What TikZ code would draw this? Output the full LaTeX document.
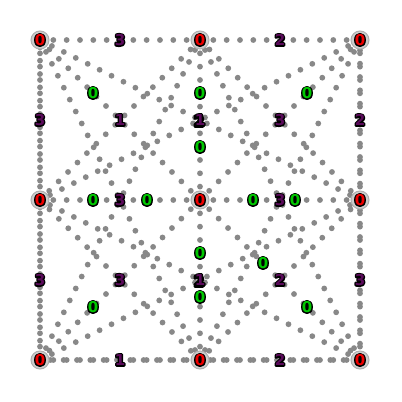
\documentclass[tikz,border=0pt]{standalone}
\usepackage{fontspec}
\setmainfont{DejaVu Sans}
\definecolor{dotgray}{RGB}{136,136,136}
\definecolor{halofill}{RGB}{205,205,205}
\definecolor{haloline}{RGB}{175,175,175}
\definecolor{nodered}{RGB}{240,0,0}
\definecolor{labpurple}{RGB}{90,10,90}
\definecolor{labdark}{RGB}{30,0,30}
\definecolor{labgreen}{RGB}{0,200,0}
\newcommand{\stroketext}[1]{\special{pdf:literal direct 2 Tr 2.8 w 0 0 0 RG 0 0 0 rg 1 j}#1\special{pdf:literal direct 0 Tr}}
\tikzset{
  edge/.style={draw=dotgray, line width=5.8pt, line cap=round, dash pattern=on 0pt off 13.33pt},
  halo/.style={circle, fill=halofill, draw=haloline, line width=1pt, minimum size=18pt, inner sep=0pt},
  lbl/.style={font=\bfseries\fontsize{15}{15}\selectfont, inner sep=0pt, anchor=center},
  outline lbl/.style={lbl, text=black},
  red lbl/.style={lbl, text=nodered},
  purple lbl/.style={lbl, text=labpurple},
  dark lbl/.style={lbl, text=labdark},
  green lbl/.style={lbl, text=labgreen}
}
\newcommand{\lab}[4]{%
  \node[outline lbl] (#1o) at (#2) {\stroketext{#4}};
  \node[#3] (#1) at (#2) {#4};}
\begin{document}
\begin{tikzpicture}[x=1pt,y=-1pt]
\useasboundingbox (0,0) rectangle (402,402);
% grid points
\coordinate (A) at (40,40);  \coordinate (B) at (200,40);  \coordinate (C) at (360,40);
\coordinate (D) at (40,200); \coordinate (E) at (200,200); \coordinate (F) at (360,200);
\coordinate (G) at (40,360); \coordinate (H) at (200,360); \coordinate (I) at (360,360);
% grid edges
\draw[edge] (A) -- (B); \draw[edge] (B) -- (C);
\draw[edge] (A) -- (D); \draw[edge] (D) -- (G);
\draw[edge, dash phase=6pt] (A) -- (D); \draw[edge, dash phase=6pt] (D) -- (G);
\draw[edge] (C) -- (F); \draw[edge] (F) -- (I);
\draw[edge, dash phase=3pt] (C) -- (F); \draw[edge, dash phase=3pt] (F) -- (I);
\draw[edge] (G) -- (H); \draw[edge] (H) -- (I);
\draw[edge, dash phase=3pt] (G) -- (H); \draw[edge, dash phase=3pt] (H) -- (I);
\draw[edge] (B) -- (E); \draw[edge] (E) -- (H);
\draw[edge] (D) -- (E); \draw[edge] (E) -- (F);
% diagonals to centre
\draw[edge] (A) -- (E); \draw[edge] (C) -- (E);
\draw[edge] (G) -- (E); \draw[edge] (I) -- (E);
% corners to opposite midpoints
\draw[edge] (A) -- (F); \draw[edge] (A) -- (H);
\draw[edge] (C) -- (D); \draw[edge] (C) -- (H);
\draw[edge] (G) -- (B); \draw[edge] (G) -- (F);
\draw[edge] (I) -- (D); \draw[edge] (I) -- (B);
% diamond
\draw[edge] (B) -- (D); \draw[edge] (B) -- (F);
\draw[edge] (D) -- (H); \draw[edge] (F) -- (H);
% halos and node labels
\foreach \p in {A,B,C,D,E,F,G,H,I}{%
  \node[halo] (h\p) at (\p) {};
  \lab{r\p}{\p}{red lbl}{0}}
% purple labels
\lab{p1}{120,40}{purple lbl}{3}
\lab{p2}{280,40}{purple lbl}{2}
\lab{p3}{40,120}{purple lbl}{3}
\lab{p4}{120,120}{purple lbl}{1}
\lab{p5a}{199,121}{dark lbl}{2}
\lab{p5}{200,120}{purple lbl}{1}
\lab{p6}{280,120}{purple lbl}{3}
\lab{p7}{360,120}{purple lbl}{2}
\lab{p8}{120,200}{purple lbl}{3}
\lab{p9}{280,200}{purple lbl}{3}
\lab{p10}{40,280}{purple lbl}{3}
\lab{p11}{120,280}{purple lbl}{3}
\lab{p12a}{199,281}{dark lbl}{2}
\lab{p12}{200,280}{purple lbl}{1}
\lab{p13}{280,280}{purple lbl}{2}
\lab{p14}{360,280}{purple lbl}{3}
\lab{p15}{120,360}{purple lbl}{1}
\lab{p16}{280,360}{purple lbl}{2}
% green labels
\foreach \x/\y [count=\k] in {93/93,200/93,307/93,200/147,93/200,147/200,253/200,295/200,200/253,263/263,200/297,93/307,307/307}{%
  \lab{g\k}{\x,\y}{green lbl}{0}}
\end{tikzpicture}
\end{document}
